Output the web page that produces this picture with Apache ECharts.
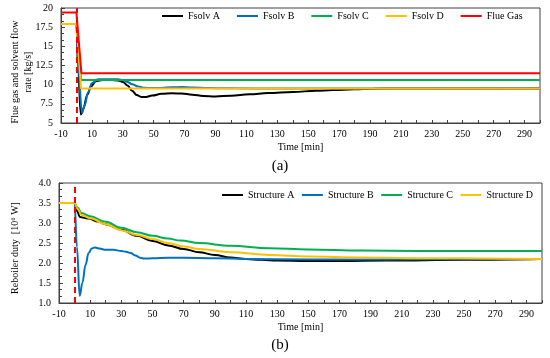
<!DOCTYPE html>
<html><head><meta charset="utf-8">
<script src="https://cdn.jsdelivr.net/npm/echarts@6/dist/echarts.min.js"></script>
<style>html,body{margin:0;padding:0;background:#fff;}#c{width:550px;height:358px;}</style>
</head><body><div id="c"></div>
<script>
// ---------- data ----------
const FONT = "'Liberation Serif','Times New Roman',serif";
const eventTime = 0;
const xLabelValues = [-10, 10, 30, 50, 70, 90, 110, 130, 150, 170, 190, 210, 230, 250, 270, 290];

// (a) flow rates [kg/s]
const topNames = ['Fsolv A', 'Fsolv B', 'Fsolv C', 'Fsolv D', 'Flue Gas'];
const tA = [-10, 0, 1, 2.8, 4.5, 7, 9.5, 12.5, 17, 23, 27, 30, 33, 36, 39, 42, 45, 49, 55, 62, 68, 75, 82, 90, 100, 112, 124, 140, 155, 166, 180, 192, 210, 240, 300];
const fA = [17.9, 17.9, 12.5, 6.1, 6.9, 8.7, 9.8, 10.45, 10.6, 10.6, 10.55, 10.35, 9.9, 9.2, 8.65, 8.4, 8.4, 8.58, 8.8, 8.87, 8.85, 8.7, 8.52, 8.47, 8.55, 8.75, 8.9, 9.05, 9.2, 9.3, 9.4, 9.48, 9.5, 9.5, 9.5];
const tB = [-10, 0, 1.2, 3.6, 5.5, 7.5, 10, 14, 20, 27, 30, 33, 36, 40, 44, 48, 55, 62, 68, 75, 85, 100, 130, 200, 300];
const fB = [17.9, 17.9, 12, 6.3, 7.4, 9.0, 10.2, 10.72, 10.7, 10.72, 10.6, 10.35, 10.05, 9.75, 9.6, 9.55, 9.58, 9.65, 9.68, 9.62, 9.55, 9.52, 9.5, 9.5, 9.52];
const tC = [-10, 0, 3, 300];
const fC = [17.9, 17.9, 10.6, 10.6];
const tD = [-10, 0, 3, 300];
const fD = [17.9, 17.9, 9.5, 9.5];
const tG = [-10, 0, 3.2, 300];
const fG = [19.4, 19.4, 11.5, 11.5];

// (b) reboiler duty [10^6 W]
const botNames = ['Structure A', 'Structure B', 'Structure C', 'Structure D'];
const sAt = [-10, 0, 1.5, 3.5, 6, 9, 15, 20, 30, 40, 50, 60, 70, 80, 90, 100, 110, 120, 130, 150, 170, 200, 250, 300];
const sA = [3.5, 3.5, 3.3, 3.15, 3.13, 3.11, 3.04, 2.97, 2.83, 2.68, 2.55, 2.44, 2.35, 2.27, 2.2, 2.14, 2.1, 2.08, 2.06, 2.05, 2.05, 2.06, 2.08, 2.1];
const sBt = [-10, 0, 1.5, 3.3, 5, 7, 9, 11, 13, 16, 20, 25, 30, 33, 36, 39, 42, 45, 50, 60, 70, 90, 110, 150, 200, 300];
const sB = [3.5, 3.5, 2.4, 1.18, 1.5, 1.95, 2.25, 2.36, 2.39, 2.36, 2.33, 2.33, 2.3, 2.28, 2.25, 2.19, 2.13, 2.11, 2.12, 2.13, 2.13, 2.12, 2.1, 2.09, 2.09, 2.1];
const sCt = [-10, 0, 2, 4.4, 10, 20, 30, 40, 50, 60, 68, 80, 100, 125, 150, 184, 220, 300];
const sC = [3.5, 3.5, 3.38, 3.25, 3.17, 3.03, 2.88, 2.77, 2.68, 2.61, 2.56, 2.5, 2.43, 2.37, 2.34, 2.31, 2.3, 2.3];
const sDt = [-10, 0, 2, 4.4, 10, 20, 30, 40, 50, 60, 70, 80, 100, 125, 150, 184, 220, 300];
const sD = [3.5, 3.5, 3.35, 3.2, 3.12, 2.97, 2.82, 2.7, 2.6, 2.5, 2.41, 2.35, 2.27, 2.2, 2.16, 2.14, 2.12, 2.1];

const colors = ['#000000', '#0070C0', '#00B050', '#FFC000', '#FF0000'];

// ---------- chart ----------
const pairs = (t, v) => t.map((x, i) => [x, v[i]]);
const txt = { fontFamily: FONT, fontSize: 10, color: '#000' };

function xAxisCfg(gi) {
  return {
    type: 'value', gridIndex: gi, min: -10, max: 300, interval: 10,
    name: 'Time [min]', nameLocation: 'middle', nameGap: 19,
    nameTextStyle: txt,
    axisLine: { show: true, onZero: false, lineStyle: { color: '#404040', width: 1 } },
    axisTick: { show: true, inside: true, length: 3, lineStyle: { color: '#404040' } },
    axisLabel: Object.assign({ margin: 6, formatter: v => xLabelValues.includes(v) ? String(v) : '' }, txt),
    splitLine: { show: false }
  };
}
function yAxisCfg(gi, min, max, iv, fmt) {
  return {
    type: 'value', gridIndex: gi, min: min, max: max, interval: iv,
    axisLine: { show: true, onZero: false, lineStyle: { color: '#404040', width: 1 } },
    axisTick: { show: true, inside: true, length: 4, lineStyle: { color: '#404040' } },
    minorTick: { show: true, splitNumber: 3, length: 3, lineStyle: { color: '#404040' } },
    axisLabel: Object.assign({ margin: 8, formatter: fmt }, txt),
    splitLine: { show: false }
  };
}
function line(name, data, color, xi, smooth) {
  return {
    name: name, type: 'line', data: data, xAxisIndex: xi, yAxisIndex: xi,
    symbol: 'none', smooth: smooth ? 0.4 : false, smoothMonotone: 'x',
    lineStyle: { color: color, width: 2 }, itemStyle: { color: color },
    animation: false
  };
}
const dash = {
  symbol: 'none', silent: true, label: { show: false },
  lineStyle: { color: '#FF0000', type: [6, 4], width: 2 },
  data: [{ xAxis: eventTime }]
};

const topSeries = [
  line(topNames[0], pairs(tA, fA), colors[0], 0, true),
  line(topNames[1], pairs(tB, fB), colors[1], 0, true),
  line(topNames[2], pairs(tC, fC), colors[2], 0, false),
  line(topNames[3], pairs(tD, fD), colors[3], 0, false),
  line(topNames[4], pairs(tG, fG), colors[4], 0, false)
];
topSeries[4].markLine = dash;
const botSeries = [
  line(botNames[0], pairs(sAt, sA), colors[0], 1, true),
  line(botNames[1], pairs(sBt, sB), colors[1], 1, true),
  line(botNames[2], pairs(sCt, sC), colors[2], 1, true),
  line(botNames[3], pairs(sDt, sD), colors[3], 1, true)
];
botSeries[3].markLine = dash;

const chart = echarts.init(document.getElementById('c'), null, { renderer: 'canvas' });
chart.setOption({
  animation: false,
  backgroundColor: '#fff',
  textStyle: { fontFamily: FONT },
  grid: [
    { left: 61, top: 8, width: 479, height: 115, show: true, borderColor: '#404040', borderWidth: 1, backgroundColor: 'transparent' },
    { left: 59, top: 183, width: 483, height: 120, show: true, borderColor: '#404040', borderWidth: 1, backgroundColor: 'transparent' }
  ],
  legend: [
    { data: topNames, left: 162, top: 11, padding: 0, icon: 'rect', itemWidth: 21, itemHeight: 2, itemGap: 17, textStyle: txt },
    { data: botNames, left: 222, top: 190, padding: 0, icon: 'rect', itemWidth: 21, itemHeight: 2, itemGap: 7.5, textStyle: txt }
  ],
  xAxis: [xAxisCfg(0), xAxisCfg(1)],
  yAxis: [
    yAxisCfg(0, 5, 20, 2.5, v => String(v)),
    yAxisCfg(1, 1, 4, 0.5, v => v.toFixed(1))
  ],
  graphic: [
    { type: 'text', x: 21.5, y: 72, rotation: Math.PI / 2,
      style: { text: 'Flue gas and solvent flow\nrate [kg/s]', font: '10px ' + FONT, fill: '#000', align: 'center', verticalAlign: 'middle', lineHeight: 13 } },
    { type: 'text', x: 15, y: 248, rotation: Math.PI / 2,
      style: { text: 'Reboiler duty  [10⁶ W]', font: '10px ' + FONT, fill: '#000', align: 'center', verticalAlign: 'middle' } },
    { type: 'text', x: 280, y: 166, style: { text: '(a)', font: '15px ' + FONT, fill: '#000', align: 'center', verticalAlign: 'middle' } },
    { type: 'text', x: 280, y: 345, style: { text: '(b)', font: '15px ' + FONT, fill: '#000', align: 'center', verticalAlign: 'middle' } }
  ],
  series: topSeries.concat(botSeries)
});
</script>
</body></html>
